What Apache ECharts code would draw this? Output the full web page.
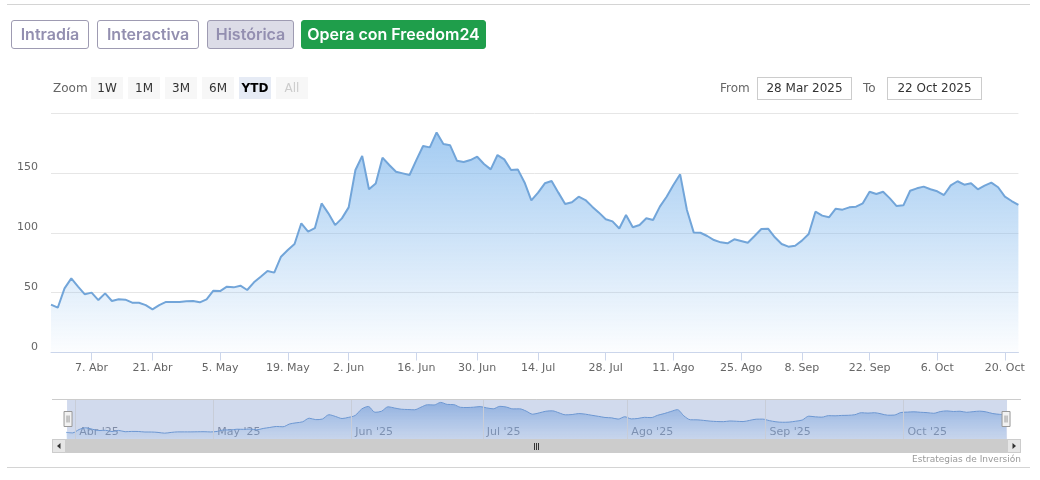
<!DOCTYPE html>
<html>
<head>
<meta charset="utf-8">
<script src="https://cdn.jsdelivr.net/npm/echarts@6/dist/echarts.min.js"></script>
<style>
html,body{margin:0;padding:0;background:#fff;}
#wrap{position:relative;width:1040px;height:480px;overflow:hidden;background:#fff;}
#chart{position:absolute;left:0;top:0;width:1040px;height:480px;}
.hr{position:absolute;left:7px;width:1023px;height:1px;background:#d4d4d4;}
.tab{position:absolute;top:20px;height:29px;box-sizing:border-box;border:1px solid #9e9bb2;border-radius:3px;
  font-family:Inter,"Noto Sans",sans-serif;font-weight:600;font-size:16px;color:#938fb0;line-height:27px;text-align:center;}
.tab.sel{background:#dcdce7;}
.tab.green{background:#1f9e4b;border-color:#1f9e4b;color:#fff;}
.rs{position:absolute;font-family:"DejaVu Sans",sans-serif;font-size:12px;color:#666;}
.zb{position:absolute;top:77px;width:32px;height:22px;background:#f7f7f7;font-family:"DejaVu Sans",sans-serif;font-size:12px;color:#333;text-align:center;line-height:22px;}
.zb.on{background:#e6ebf5;font-weight:bold;color:#000;}
.zb.off{color:#cccccc;}
.inp{position:absolute;top:77px;height:23px;box-sizing:border-box;border:1px solid #cccccc;font-family:"DejaVu Sans",sans-serif;font-size:12px;color:#333;text-align:center;line-height:21px;}
</style>
</head>
<body>
<div id="wrap">
  <div id="chart"></div>
  <div class="hr" style="top:4px"></div>
  <div class="hr" style="top:467px"></div>
  <div class="tab" style="left:11px;width:78px">Intradía</div>
  <div class="tab" style="left:97px;width:102px">Interactiva</div>
  <div class="tab sel" style="left:207px;width:87px">Histórica</div>
  <div class="tab green" style="left:301px;width:185px">Opera con Freedom24</div>
  <div class="rs" style="left:53px;top:81px">Zoom</div>
  <div class="zb" style="left:91px">1W</div>
  <div class="zb" style="left:128px">1M</div>
  <div class="zb" style="left:165px">3M</div>
  <div class="zb" style="left:202px">6M</div>
  <div class="zb on" style="left:239px">YTD</div>
  <div class="zb off" style="left:276px">All</div>
  <div class="rs" style="left:720px;top:81px">From</div>
  <div class="inp" style="left:757px;width:95px">28 Mar 2025</div>
  <div class="rs" style="left:863px;top:81px">To</div>
  <div class="inp" style="left:887px;width:95px">22 Oct 2025</div>
</div>
<script>
// ---- data ----
const dates = [
'2025-03-28','2025-03-31',
'2025-04-01','2025-04-02','2025-04-03','2025-04-04','2025-04-07','2025-04-08','2025-04-09','2025-04-10','2025-04-11',
'2025-04-14','2025-04-15','2025-04-16','2025-04-17','2025-04-21','2025-04-22','2025-04-23','2025-04-24','2025-04-25',
'2025-04-28','2025-04-29','2025-04-30',
'2025-05-01','2025-05-02','2025-05-05','2025-05-06','2025-05-07','2025-05-08','2025-05-09','2025-05-12','2025-05-13',
'2025-05-14','2025-05-15','2025-05-16','2025-05-19','2025-05-20','2025-05-21','2025-05-22','2025-05-23','2025-05-27',
'2025-05-28','2025-05-29','2025-05-30',
'2025-06-02','2025-06-03','2025-06-04','2025-06-05','2025-06-06','2025-06-09','2025-06-10','2025-06-11','2025-06-12',
'2025-06-13','2025-06-16','2025-06-17','2025-06-18','2025-06-20','2025-06-23','2025-06-24','2025-06-25','2025-06-26',
'2025-06-27','2025-06-30',
'2025-07-01','2025-07-02','2025-07-03','2025-07-07','2025-07-08','2025-07-09','2025-07-10','2025-07-11','2025-07-14',
'2025-07-15','2025-07-16','2025-07-17','2025-07-18','2025-07-21','2025-07-22','2025-07-23','2025-07-24','2025-07-25',
'2025-07-28','2025-07-29','2025-07-30','2025-07-31',
'2025-08-01','2025-08-04','2025-08-05','2025-08-06','2025-08-07','2025-08-08','2025-08-11','2025-08-12','2025-08-13',
'2025-08-14','2025-08-15','2025-08-18','2025-08-19','2025-08-20','2025-08-21','2025-08-22','2025-08-25','2025-08-26',
'2025-08-27','2025-08-28','2025-08-29',
'2025-09-02','2025-09-03','2025-09-04','2025-09-05','2025-09-08','2025-09-09','2025-09-10','2025-09-11','2025-09-12',
'2025-09-15','2025-09-16','2025-09-17','2025-09-18','2025-09-19','2025-09-22','2025-09-23','2025-09-24','2025-09-25',
'2025-09-26','2025-09-29','2025-09-30',
'2025-10-01','2025-10-02','2025-10-03','2025-10-06','2025-10-07','2025-10-08','2025-10-09','2025-10-10','2025-10-13',
'2025-10-14','2025-10-15','2025-10-16','2025-10-17','2025-10-20','2025-10-21','2025-10-22'
];
const closes = [
40.0,37.4,
53.6,61.9,55.0,48.6,50.0,43.8,49.4,43.0,44.4,
44.1,41.6,41.6,39.6,36.0,39.6,42.2,42.2,42.2,
42.7,43.0,41.9,
44.4,51.6,51.3,55.0,54.4,55.8,52.2,58.6,63.3,
68.1,66.7,80.0,85.6,90.6,107.9,101.0,103.8,124.5,
116.2,106.4,112.0,
121.2,152.4,164.1,136.3,141.2,162.7,156.6,151.0,149.6,
148.2,160.7,172.4,171.3,183.8,174.1,173.0,160.2,159.1,
160.7,163.5,
157.4,152.9,164.9,161.3,152.4,152.9,142.0,127.0,133.5,
141.3,143.2,133.5,124.0,125.4,130.1,127.3,121.8,116.8,
111.3,109.5,103.6,114.8,
104.6,106.5,112.1,110.6,121.8,130.1,139.9,148.8,119.0,
100.3,100.0,97.3,93.9,92.0,91.2,94.5,93.1,91.7,
97.3,103.1,103.4,
96.2,90.6,88.4,89.2,93.4,99.0,117.6,114.3,112.9,
120.1,119.3,121.2,121.8,124.6,134.2,132.3,134.2,128.7,
122.3,122.9,
135.1,137.1,138.5,136.3,134.6,131.5,139.6,143.0,140.1,
141.3,136.3,139.3,141.8,138.0,130.1,126.5,123.2
];
const xTickDates = ['2025-04-07','2025-04-21','2025-05-05','2025-05-19','2025-06-02','2025-06-16','2025-06-30',
  '2025-07-14','2025-07-28','2025-08-11','2025-08-25','2025-09-08','2025-09-22','2025-10-06','2025-10-20'];
const monthNames = {'04':'Abr','05':'May','06':'Jun','07':'Jul','08':'Ago','09':'Sep','10':'Oct'};
const navMonths = ['2025-04','2025-05','2025-06','2025-07','2025-08','2025-09','2025-10'];
const yMin = 0, yMax = 200, yStep = 50;
const navYMin = 8, navYMax = 200;
const monthTickShift = 0.6; // month boundary falls before first trading day

// ---- derived ----
const tickSet = new Set(xTickDates);
const isTick = (idx, val) => tickSet.has(val !== undefined ? val : dates[idx]);
const fmtTick = v => { const p = v.split('-'); return (+p[2]) + '. ' + monthNames[p[1]]; };
const navTickValues = navMonths.map(m => dates.findIndex(d => d.startsWith(m)) - monthTickShift);
const fmtNav = v => {
  let k = 0, best = Infinity;
  navTickValues.forEach((t, i) => { const d = Math.abs(t - v); if (d < best) { best = d; k = i; } });
  const mm = navMonths[k].split('-')[1];
  return monthNames[mm] + " '25";
};

const chart = echarts.init(document.getElementById('chart'), null, {renderer: 'canvas'});
const option = {
  animation: false,
  backgroundColor: 'transparent',
  textStyle: {fontFamily: 'DejaVu Sans'},
  grid: [
    {left: 51, top: 113, width: 967.4, height: 239.5},
    {left: 66, top: 399, width: 940, height: 40}
  ],
  xAxis: [
    {
      type: 'category', gridIndex: 0, data: dates, boundaryGap: false,
      axisLine: {lineStyle: {color: '#ccd6eb'}},
      axisTick: {show: true, length: 8, interval: isTick, lineStyle: {color: '#ccd6eb'}},
      axisLabel: {interval: isTick, formatter: fmtTick, color: '#666666', fontSize: 11, fontFamily: 'DejaVu Sans', margin: 10},
      splitLine: {show: false}
    },
    {
      type: 'value', gridIndex: 1, min: 0, max: dates.length - 1,
      axisLine: {show: false}, axisTick: {show: false}, splitLine: {show: false},
      axisLabel: {show: true, inside: true, customValues: navTickValues, formatter: fmtNav,
        color: '#8a8f99', fontSize: 11, fontFamily: 'DejaVu Sans', align: 'left', padding: [0, 0, 0, 4], margin: 1,
        showMinLabel: true, showMaxLabel: true}
    }
  ],
  yAxis: [
    {
      type: 'value', gridIndex: 0, min: yMin, max: yMax, interval: yStep,
      axisLine: {show: false}, axisTick: {show: false},
      splitLine: {lineStyle: {color: '#e6e6e6'}},
      axisLabel: {margin: 13, verticalAlign: 'bottom', color: '#666666', fontSize: 11, fontFamily: 'DejaVu Sans',
        formatter: v => (v === yMax ? '' : String(v))}
    },
    {type: 'value', gridIndex: 1, min: navYMin, max: navYMax, show: false}
  ],
  dataZoom: [{
    type: 'slider', xAxisIndex: 0, start: 0, end: 100,
    left: 66, width: 940, top: 399, height: 40,
    backgroundColor: 'transparent', borderColor: 'transparent',
    fillerColor: 'rgba(102,133,194,0.3)',
    showDataShadow: false, showDetail: false, brushSelect: false,
    moveHandleSize: 0,
    handleIcon: 'path://M0,0H8V15H0Z M3,4V11 M5,4V11',
    handleSize: 15,
    handleStyle: {color: '#f2f2f2', borderColor: '#999999', borderWidth: 1},
    emphasis: {handleStyle: {color: '#f2f2f2', borderColor: '#999999'}}
  }],
  graphic: [
    {type: 'line', shape: {x1: 52, y1: 399.5, x2: 1021, y2: 399.5}, style: {stroke: '#cccccc', lineWidth: 1}, z: 10},
    {type: 'rect', shape: {x: 52, y: 439, width: 969, height: 14}, style: {fill: '#cccccc'}, z: 10},
    {type: 'rect', shape: {x: 52.5, y: 439.5, width: 13, height: 13}, style: {fill: '#e6e6e6', stroke: '#cccccc'}, z: 11},
    {type: 'rect', shape: {x: 1007.5, y: 439.5, width: 13, height: 13}, style: {fill: '#e6e6e6', stroke: '#cccccc'}, z: 11},
    {type: 'polygon', shape: {points: [[60.5, 443], [60.5, 449], [57, 446]]}, style: {fill: '#333333'}, z: 12},
    {type: 'polygon', shape: {points: [[1012.5, 443], [1012.5, 449], [1016, 446]]}, style: {fill: '#333333'}, z: 12},
    {type: 'line', shape: {x1: 534.5, y1: 443, x2: 534.5, y2: 450}, style: {stroke: '#333333', lineWidth: 1}, z: 12},
    {type: 'line', shape: {x1: 536.5, y1: 443, x2: 536.5, y2: 450}, style: {stroke: '#333333', lineWidth: 1}, z: 12},
    {type: 'line', shape: {x1: 538.5, y1: 443, x2: 538.5, y2: 450}, style: {stroke: '#333333', lineWidth: 1}, z: 12},
    {type: 'text', right: 19, top: 455, style: {text: 'Estrategias de Inversión', fill: '#999999', font: '9px "DejaVu Sans"'}, z: 12}
  ],
  series: [
    {
      type: 'line', xAxisIndex: 0, yAxisIndex: 0, data: closes, symbol: 'none', showSymbol: false,
      lineStyle: {color: '#72a5d9', width: 2},
      areaStyle: {color: {type: 'linear', x: 0, y: 0, x2: 0, y2: 1, colorStops: [
        {offset: 0, color: 'rgba(124,181,236,1)'}, {offset: 1, color: 'rgba(124,181,236,0.03)'}]}},
      z: 3
    },
    {
      type: 'line', xAxisIndex: 1, yAxisIndex: 1, data: closes.map((v, i) => [i, v]), symbol: 'none', showSymbol: false,
      smooth: 0.3,
      lineStyle: {color: '#6f9fd8', width: 1},
      areaStyle: {color: {type: 'linear', x: 0, y: 0, x2: 0, y2: 1, colorStops: [
        {offset: 0, color: 'rgba(110,160,225,0.9)'}, {offset: 1, color: 'rgba(124,181,236,0.15)'}]}},
      markLine: {silent: true, symbol: ['none', 'none'], label: {show: false},
        lineStyle: {color: '#c8cdd8', width: 1, type: 'solid'},
        data: navTickValues.map(v => ({xAxis: v}))}
    }
  ]
};
chart.setOption(option);
</script>
</body>
</html>
